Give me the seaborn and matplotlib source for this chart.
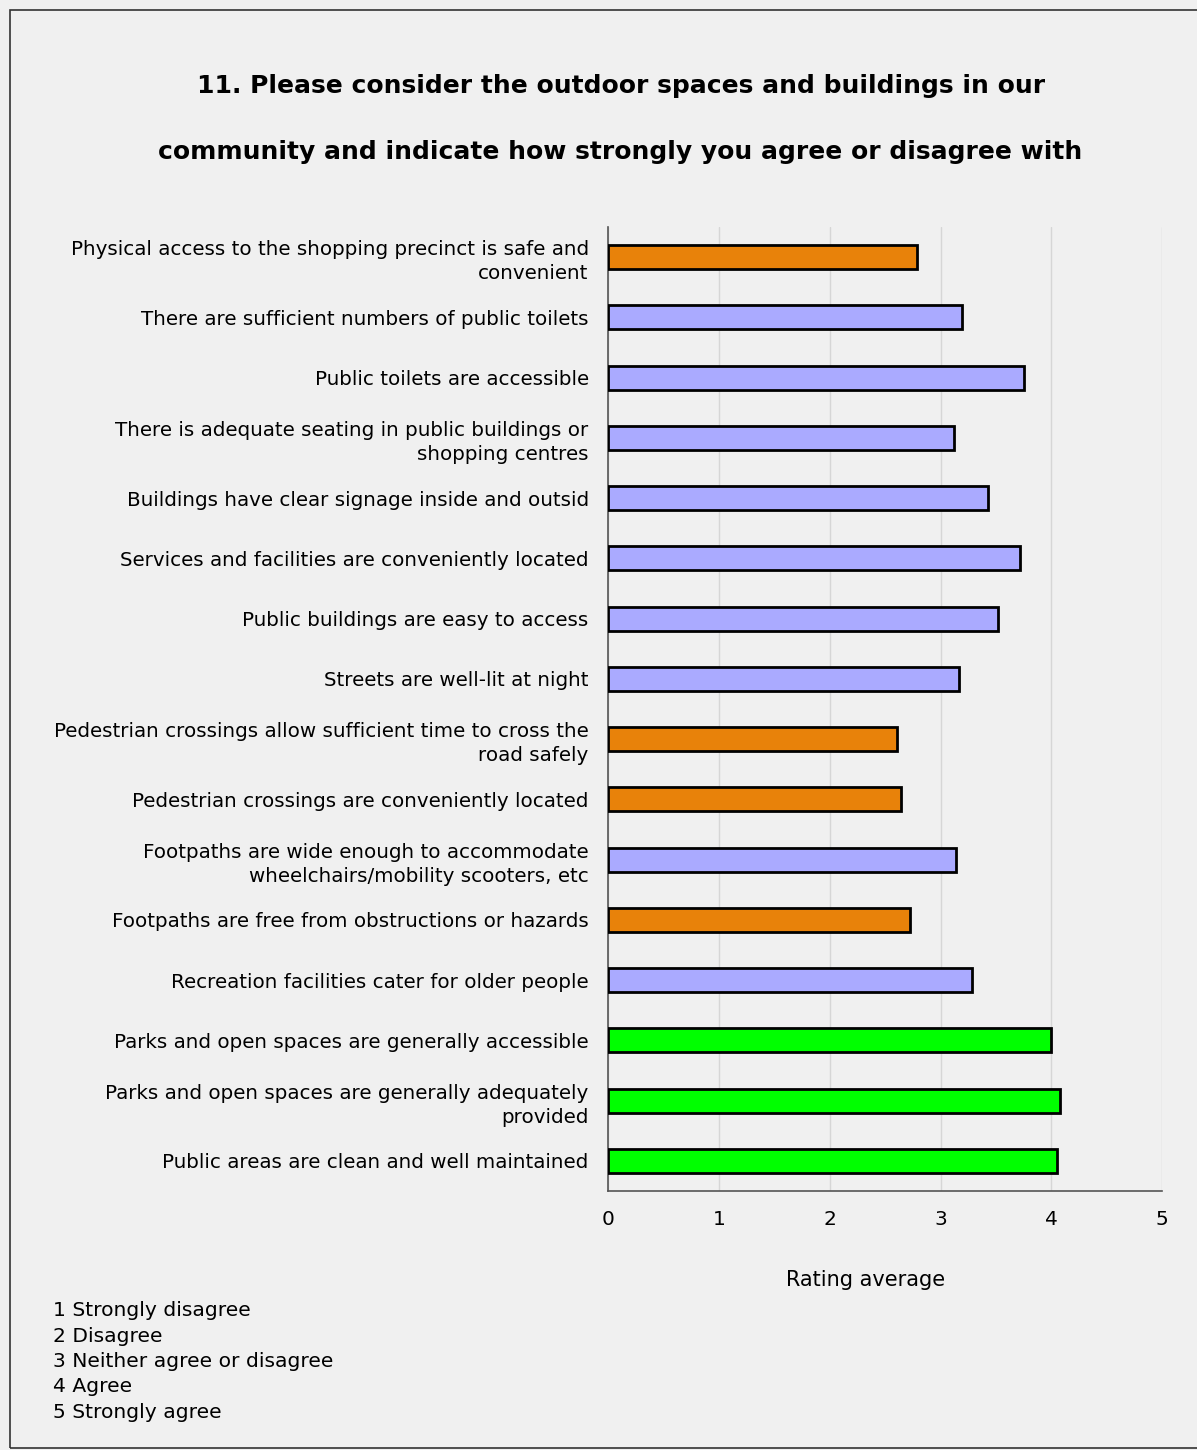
import matplotlib
matplotlib.use("Agg")
import matplotlib.pyplot as plt
import seaborn as sns
import pandas as pd
import numpy as np

# Statements (top to bottom) and their rating averages
statements = [
    "Physical access to the shopping precinct is safe and\nconvenient",
    "There are sufficient numbers of public toilets",
    "Public toilets are accessible",
    "There is adequate seating in public buildings or\nshopping centres",
    "Buildings have clear signage inside and outsid",
    "Services and facilities are conveniently located",
    "Public buildings are easy to access",
    "Streets are well-lit at night",
    "Pedestrian crossings allow sufficient time to cross the\nroad safely",
    "Pedestrian crossings are conveniently located",
    "Footpaths are wide enough to accommodate\nwheelchairs/mobility scooters, etc",
    "Footpaths are free from obstructions or hazards",
    "Recreation facilities cater for older people",
    "Parks and open spaces are generally accessible",
    "Parks and open spaces are generally adequately\nprovided",
    "Public areas are clean and well maintained",
]
ratings = [2.79, 3.19, 3.75, 3.12, 3.43, 3.72, 3.52, 3.17,
           2.61, 2.64, 3.14, 2.72, 3.28, 4.00, 4.08, 4.05]
scale_labels = ["1 Strongly disagree", "2 Disagree", "3 Neither agree or disagree",
                "4 Agree", "5 Strongly agree"]

def band(v):
    if v < 3:
        return "low"
    if v < 4:
        return "mid"
    return "high"

df = pd.DataFrame({"statement": statements, "rating": ratings})
df["band"] = df["rating"].apply(band)
palette = {"low": "#E8820A", "mid": "#AAAAFF", "high": "#00FF00"}

sns.set_theme(style="white")
plt.rcParams["font.family"] = ["DejaVu Sans"]
plt.rcParams["text.color"] = "black"
plt.rcParams["xtick.color"] = "black"
plt.rcParams["ytick.color"] = "black"

bg = "#F0F0F0"
fig = plt.figure(figsize=(11.97, 14.5), dpi=100, facecolor=bg)
ax = fig.add_axes([0.508, 0.1786, 0.463, 0.6648])
ax.set_facecolor(bg)

sns.barplot(data=df, x="rating", y="statement", hue="band", palette=palette,
            dodge=False, legend=False, width=0.4, edgecolor="black",
            linewidth=2, saturation=1, ax=ax, zorder=3)

ax.set_xlim(0, 5)
ax.set_ylim(len(statements) - 0.5, -0.5)
ax.set_xticks(range(6))
ax.xaxis.grid(True, color="#D6D6D6", linewidth=1, zorder=0)
ax.set_xlabel("")
ax.set_ylabel("")

for s in ["top", "right"]:
    ax.spines[s].set_visible(False)
for s in ["left", "bottom"]:
    ax.spines[s].set_color("#555555")
    ax.spines[s].set_linewidth(1.2)

ax.set_yticks(np.arange(-0.5, len(statements)), minor=True)
ax.tick_params(axis="y", which="major", length=0, pad=14, labelsize=14.3, labelcolor="black")
ax.tick_params(axis="y", which="minor", length=6, width=1.2, color="#555555", direction="out")
ax.tick_params(axis="x", which="major", length=6, width=1.2, color="#555555",
               direction="out", labelsize=14.5, pad=8, labelcolor="black")
for lbl in ax.get_yticklabels():
    lbl.set_horizontalalignment("right")
    lbl.set_multialignment("right")
    lbl.set_linespacing(1.35)

fig.text(866 / 1197, 1 - 1280 / 1450, "Rating average", ha="center", va="center", fontsize=15)

fig.text(621 / 1197, 1 - 86 / 1450,
         "11. Please consider the outdoor spaces and buildings in our",
         ha="center", va="center", fontsize=18, fontweight="bold")
fig.text(620 / 1197, 1 - 152 / 1450,
         "community and indicate how strongly you agree or disagree with",
         ha="center", va="center", fontsize=18, fontweight="bold")

for i, txt in enumerate(scale_labels):
    fig.text(53 / 1197, 1 - (1311 + i * 25.3) / 1450, txt, ha="left", va="center", fontsize=14.6)

# outer frame
frame = plt.Rectangle((10 / 1197, 2 / 1450), 1.2, 1 - 10 / 1450 - 2 / 1450,
                      transform=fig.transFigure, fill=False, edgecolor="#333333",
                      linewidth=1.2)
fig.patches.append(frame)

fig.savefig("out.png", dpi=100, facecolor=bg)
